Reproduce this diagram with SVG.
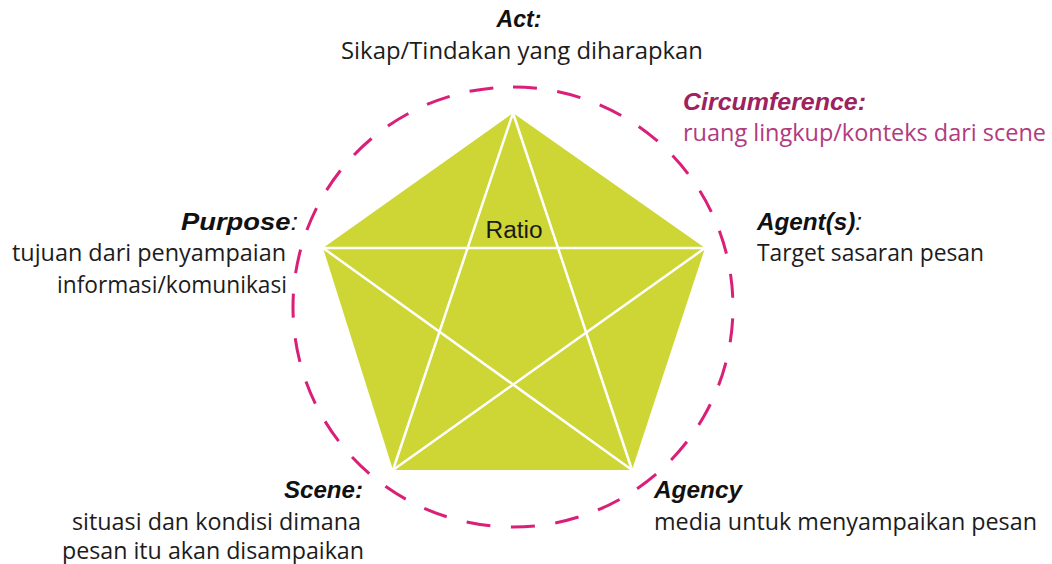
<svg xmlns="http://www.w3.org/2000/svg" width="1052" height="564" viewBox="0 0 1052 564">
  <style>
    .head { font-family: "Liberation Sans", Arial, sans-serif; font-weight: bold; font-style: italic; font-size: 24px; fill: #111; }
    .body { font-family: "Open Sans", "Noto Sans", sans-serif; font-size: 23px; fill: #1c1c1c; }
    .thin { font-weight: normal; }
    .circ-head { fill: #9c2260; }
    .circ-body { fill: #b23a7e; }
    .star { stroke: #ffffff; stroke-width: 2.5; fill: none; stroke-linecap: round; }
    .ring { fill: none; stroke: #d91f78; stroke-width: 3; stroke-dasharray: 24 20.59; }
  </style>

  <rect width="1052" height="564" fill="#ffffff"/>

  <!-- dashed circumference ring -->
  <g id="circumference-ring">
    <path class="ring" d="M 513 87 A 220 220 0 1 1 512.99 87 Z"/>
  </g>

  <!-- pentagon with inscribed star -->
  <g id="pentagon">
    <polygon points="513,113 705,248 632,470 393,470 323,248" fill="#cdd634"/>
  </g>

  <g id="connectors">
    <line class="star" x1="323" y1="248" x2="705" y2="248"/>
    <line class="star" x1="513" y1="113" x2="393" y2="470"/>
    <line class="star" x1="513" y1="113" x2="632" y2="470"/>
    <line class="star" x1="323" y1="248" x2="632" y2="470"/>
    <line class="star" x1="705" y1="248" x2="393" y2="470"/>
  </g>

  <g id="ratio">
    <text x="514" y="238" text-anchor="middle" font-family="Liberation Sans, Arial, sans-serif" font-size="23" fill="#1a1a1a" textLength="57" lengthAdjust="spacingAndGlyphs">Ratio</text>
  </g>

  <g id="act">
    <text class="head" x="519" y="27" text-anchor="middle" textLength="45" lengthAdjust="spacingAndGlyphs">Act:</text>
    <text class="body" x="522" y="59" text-anchor="middle" textLength="362" lengthAdjust="spacingAndGlyphs">Sikap/Tindakan yang diharapkan</text>
  </g>

  <g id="circumference">
    <text class="head circ-head" x="683" y="110" textLength="183" lengthAdjust="spacingAndGlyphs">Circumference:</text>
    <text class="body circ-body" x="683" y="141" textLength="363" lengthAdjust="spacingAndGlyphs">ruang lingkup/konteks dari scene</text>
  </g>

  <g id="purpose">
    <text class="head" x="298" y="230" text-anchor="end" textLength="117" lengthAdjust="spacingAndGlyphs">Purpose<tspan class="thin">:</tspan></text>
    <text class="body" x="286" y="261" text-anchor="end" textLength="274" lengthAdjust="spacingAndGlyphs">tujuan dari penyampaian</text>
    <text class="body" x="287" y="293" text-anchor="end" textLength="230" lengthAdjust="spacingAndGlyphs">informasi/komunikasi</text>
  </g>

  <g id="agents">
    <text class="head" x="757" y="230" textLength="105" lengthAdjust="spacingAndGlyphs">Agent(s)<tspan class="thin">:</tspan></text>
    <text class="body" x="757" y="261" textLength="227" lengthAdjust="spacingAndGlyphs">Target sasaran pesan</text>
  </g>

  <g id="scene">
    <text class="head" x="363" y="498" text-anchor="end" textLength="79" lengthAdjust="spacingAndGlyphs">Scene:</text>
    <text class="body" x="361" y="530" text-anchor="end" textLength="289" lengthAdjust="spacingAndGlyphs">situasi dan kondisi dimana</text>
    <text class="body" x="364" y="559" text-anchor="end" textLength="302" lengthAdjust="spacingAndGlyphs">pesan itu akan disampaikan</text>
  </g>

  <g id="agency">
    <text class="head" x="654" y="498" textLength="88" lengthAdjust="spacingAndGlyphs">Agency</text>
    <text class="body" x="654" y="530" textLength="383" lengthAdjust="spacingAndGlyphs">media untuk menyampaikan pesan</text>
  </g>
</svg>
